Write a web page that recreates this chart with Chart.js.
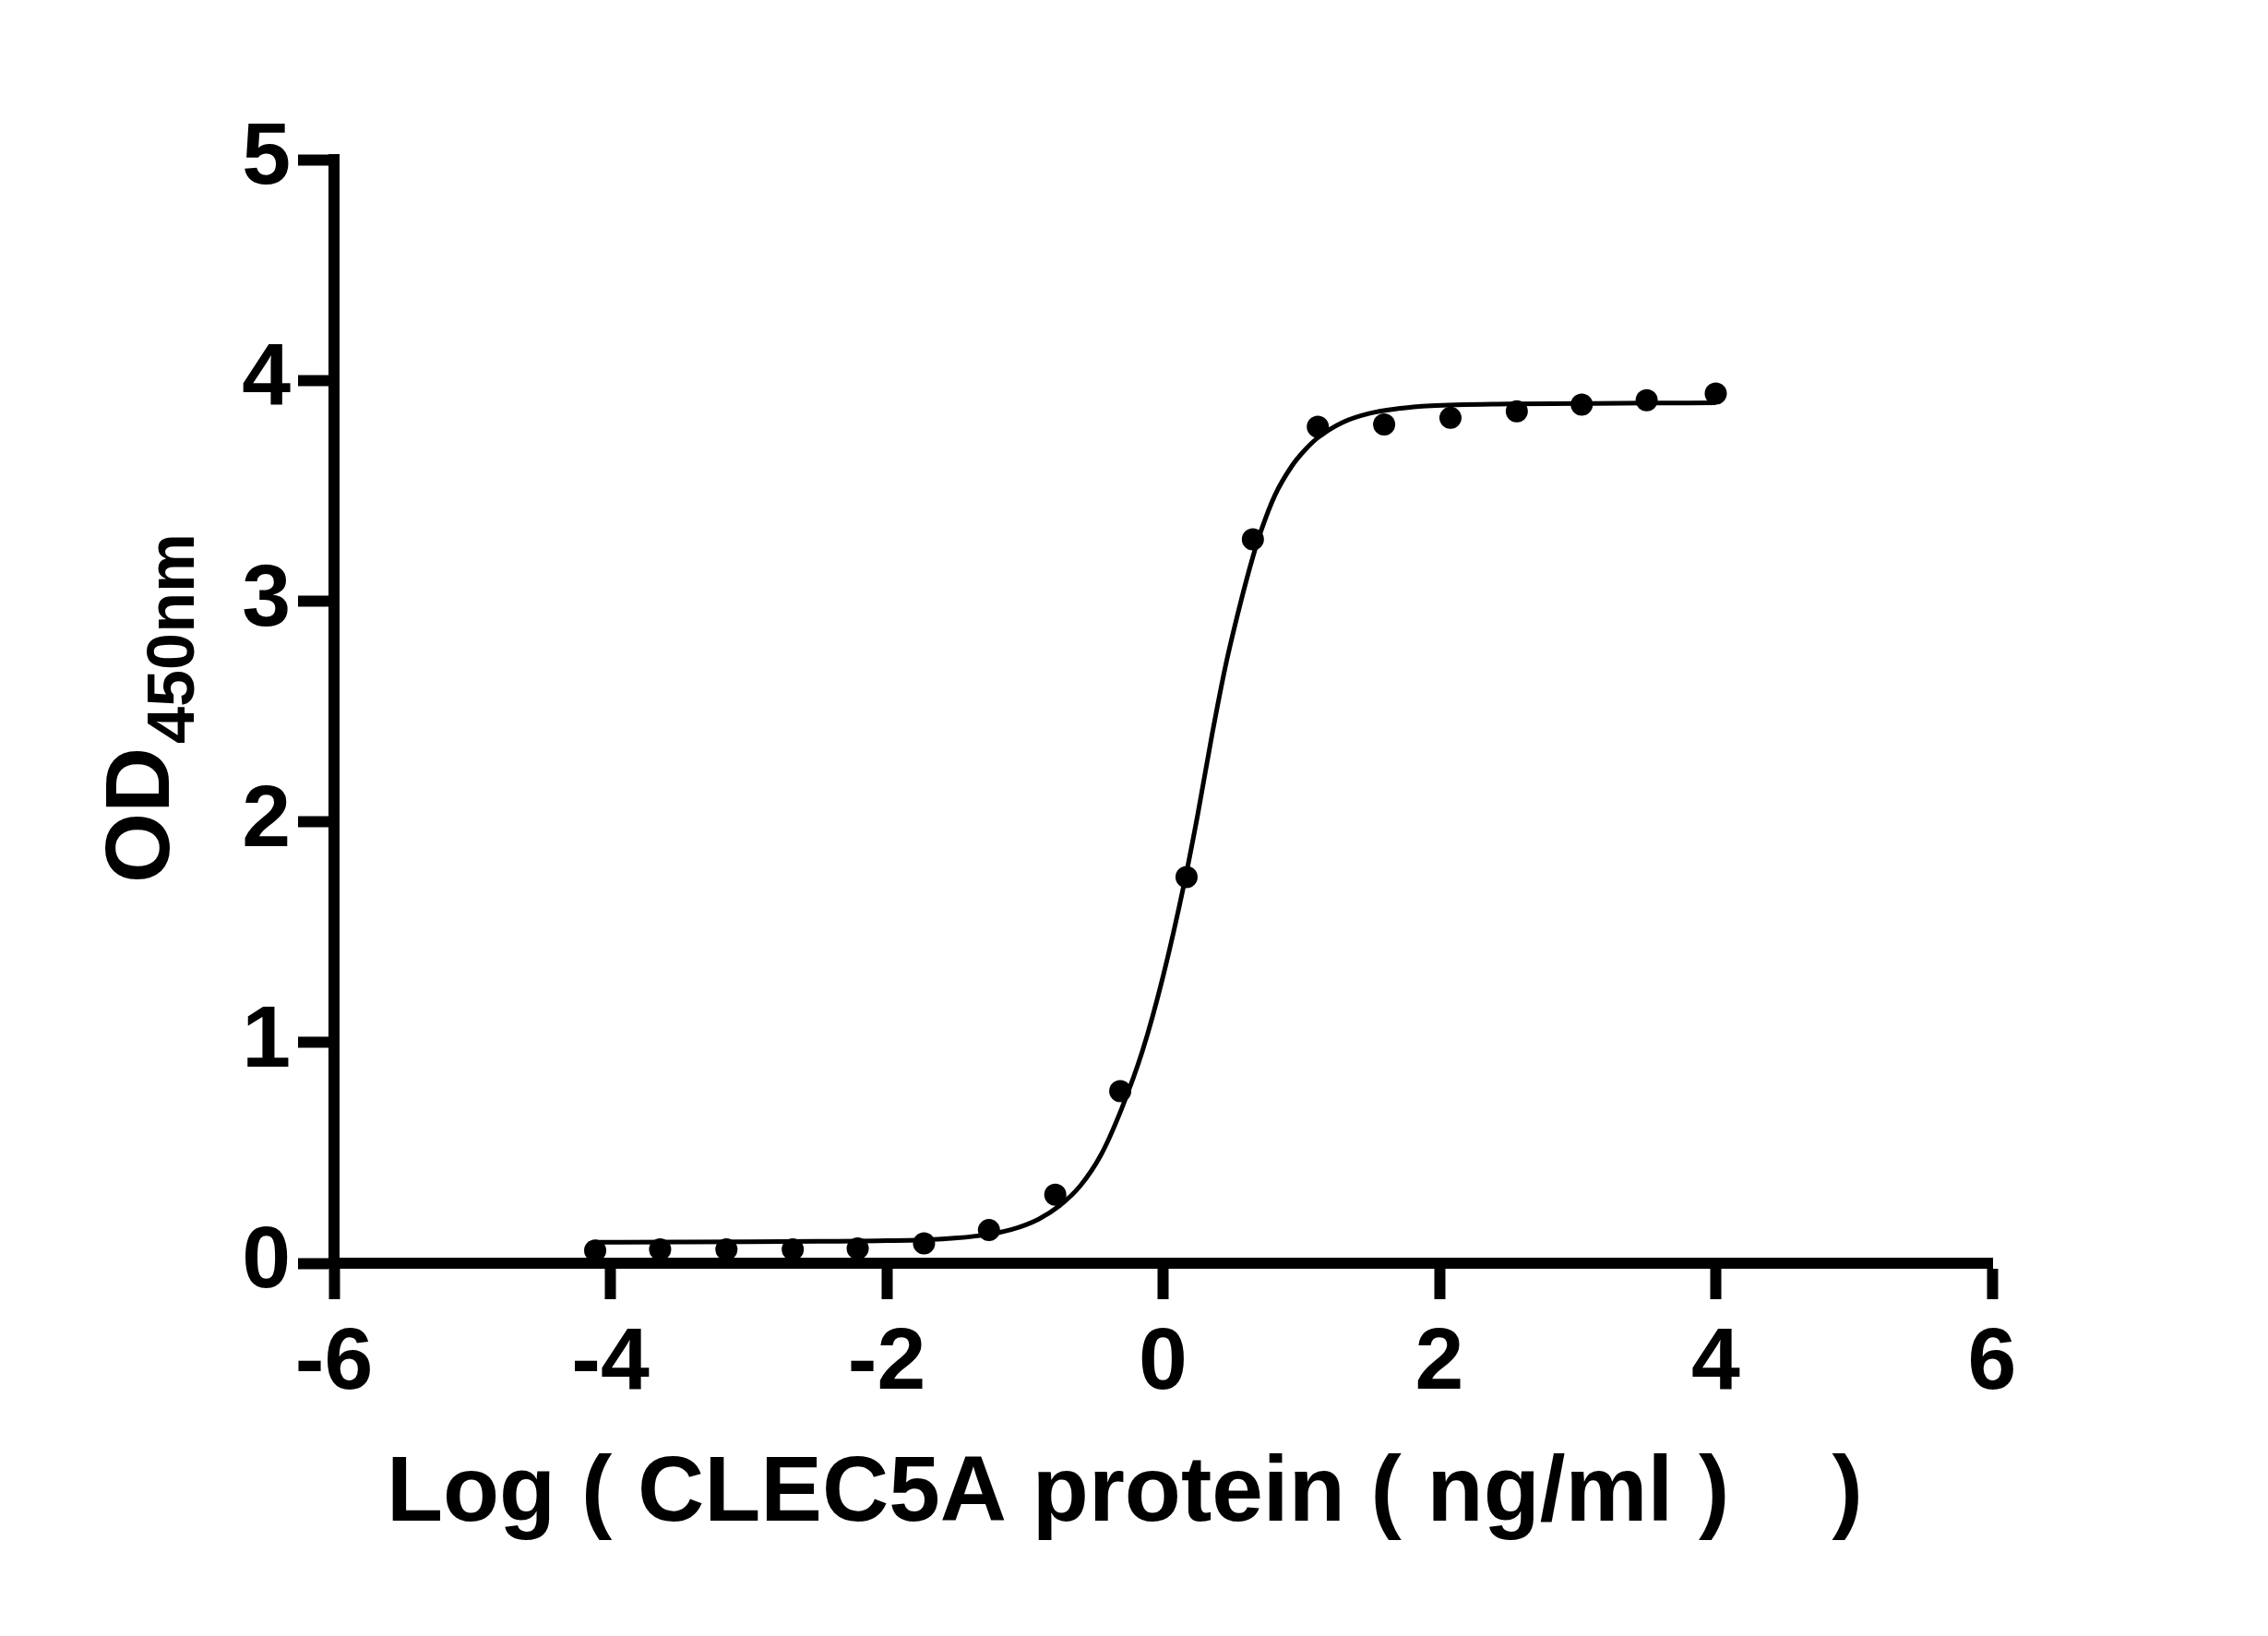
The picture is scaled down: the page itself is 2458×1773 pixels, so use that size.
<!DOCTYPE html>
<html>
<head>
<meta charset="utf-8">
<script src="https://cdn.jsdelivr.net/npm/chart.js@4.4.1/dist/chart.umd.min.js"></script>
<style>
  body { margin: 0; background: #fff; }
  canvas { display: block; }
</style>
</head>
<body>
<canvas id="curve" width="2458" height="1773"></canvas>
<script>
// measured points, log10 of concentration (ng/ml) vs OD450
var logConc = [4.00, 3.50, 3.03, 2.56, 2.08, 1.60, 1.12, 0.65, 0.17, -0.31, -0.78, -1.26, -1.73, -2.21, -2.68, -3.16, -3.64, -4.11];
var od450 = [3.94, 3.91, 3.89, 3.86, 3.83, 3.80, 3.79, 3.28, 1.75, 0.78, 0.31, 0.15, 0.09, 0.067, 0.063, 0.063, 0.063, 0.058];

// fitted curve
var fitX = [-4.11, -3.5, -3.0, -2.5, -2.0, -1.6, -1.3, -1.1, -0.9, -0.75, -0.6, -0.45, -0.3, -0.15, 0.0, 0.156, 0.25, 0.356, 0.45, 0.556, 0.65, 0.71, 0.81, 0.93, 1.02, 1.12, 1.30, 1.49, 1.7, 1.94, 2.5, 3.0, 3.5, 4.0];
var fitY = [0.095, 0.096, 0.097, 0.099, 0.102, 0.11, 0.127, 0.152, 0.2, 0.26, 0.35, 0.49, 0.7, 0.96, 1.3, 1.73, 2.03, 2.40, 2.70, 2.98, 3.20, 3.32, 3.48, 3.61, 3.68, 3.74, 3.81, 3.85, 3.872, 3.885, 3.893, 3.895, 3.897, 3.898];

var xTitle = 'Log ( CLEC5A protein ( ng/ml )    )   ';
var yTitleMain = 'OD';
var yTitleSub = '450nm';

var font = 'Liberation Sans';

function pairs(xs, ys) {
  return xs.map(function (x, i) { return { x: x, y: ys[i] }; });
}

// OD with subscript, rotated
var yTitlePlugin = {
  id: 'yTitle',
  afterDraw: function (chart) {
    var ctx = chart.ctx;
    ctx.save();
    ctx.translate(183, 957);
    ctx.rotate(-Math.PI / 2);
    ctx.fillStyle = '#000';
    ctx.textBaseline = 'alphabetic';
    ctx.font = 'bold 98px ' + font;
    ctx.fillText(yTitleMain, 0, 0);
    var w = ctx.measureText(yTitleMain).width;
    ctx.font = 'bold 72px ' + font;
    ctx.fillText(yTitleSub, w + 4, 27);
    ctx.restore();
  }
};

var ctx = document.getElementById('curve');
var chart = new Chart(ctx, {
  type: 'scatter',
  data: {
    datasets: [{
      label: 'fit',
      data: pairs(fitX, fitY),
      showLine: true,
      borderColor: '#000',
      borderWidth: 5,
      pointRadius: 0,
      cubicInterpolationMode: 'monotone',
      clip: false
    }, {
      label: 'OD450',
      data: pairs(logConc, od450),
      pointRadius: 12,
      pointBackgroundColor: '#000',
      pointBorderColor: '#000',
      pointBorderWidth: 0,
      clip: false
    }]
  },
  options: {
    responsive: false,
    animation: false,
    devicePixelRatio: 1,
    layout: { padding: { top: 173, right: 299, left: 0, bottom: 0 } },
    plugins: { legend: { display: false }, tooltip: { enabled: false } },
    scales: {
      x: {
        type: 'linear',
        min: -6, max: 6,
        afterFit: function (s) { s.height = 404; },
        border: { color: '#000', width: 12 },
        grid: { drawOnChartArea: false, tickLength: 39, tickWidth: 12, tickColor: '#000' },
        ticks: { stepSize: 2, color: '#000', padding: 14, font: { family: font, weight: 'bold', size: 95 } },
        title: {
          display: true, text: xTitle, color: '#000',
          padding: { top: 0, bottom: 93 },
          font: { family: font, weight: 'bold', size: 100, lineHeight: 1.2 }
        }
      },
      y: {
        type: 'linear',
        min: 0, max: 5,
        afterFit: function (s) { s.width = 362; },
        border: { color: '#000', width: 12 },
        grid: { drawOnChartArea: false, tickLength: 39, tickWidth: 12, tickColor: '#000' },
        ticks: { stepSize: 1, color: '#000', padding: 8, font: { family: font, weight: 'bold', size: 95 } }
      }
    }
  },
  plugins: [yTitlePlugin]
});
</script>
</body>
</html>
